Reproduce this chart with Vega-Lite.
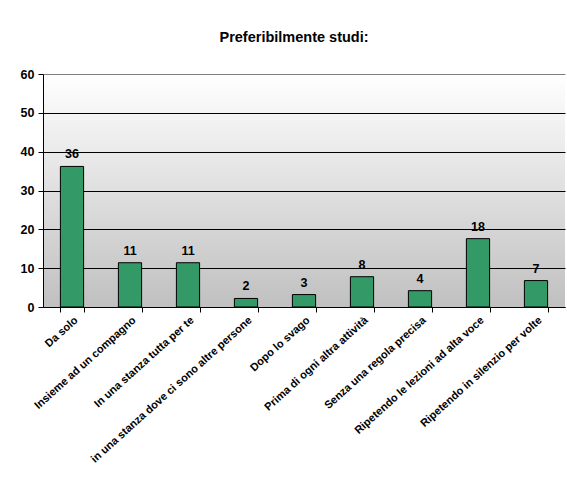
{
  "$schema": "https://vega.github.io/schema/vega-lite/v6.json",
  "width": 522,
  "height": 233,
  "autosize": "none",
  "padding": {"left": 43, "top": 74, "right": 2, "bottom": 173},
  "background": "#ffffff",
  "title": {
    "text": "Preferibilmente studi:",
    "font": "Liberation Sans",
    "fontSize": 14.5,
    "fontWeight": "bold",
    "color": "#000000",
    "anchor": "middle",
    "offset": 23,
    "dx": -10
  },
  "data": {
    "values": [
      {"voce": "Da solo", "n": 36.2},
      {"voce": "Insieme ad un compagno", "n": 11.4},
      {"voce": "In una stanza tutta per te", "n": 11.4},
      {"voce": "in una stanza dove ci sono altre persone", "n": 2.2},
      {"voce": "Dopo lo svago", "n": 3.2},
      {"voce": "Prima di ogni altra attività", "n": 7.8},
      {"voce": "Senza una regola precisa", "n": 4.2},
      {"voce": "Ripetendo le lezioni ad alta voce", "n": 17.6},
      {"voce": "Ripetendo in silenzio per volte", "n": 6.8}
    ]
  },
  "encoding": {
    "x": {
      "field": "voce",
      "type": "nominal",
      "sort": null,
      "title": null,
      "scale": {"paddingInner": 0.6, "paddingOuter": 0.3},
      "axis": {
        "tickBand": "extent",
        "labelAngle": -42,
        "labelAlign": "right",
        "labelBaseline": "top",
        "labelFont": "Liberation Sans",
        "labelFontSize": 11,
        "labelFontWeight": "bold",
        "labelColor": "#000000",
        "labelPadding": 2,
        "labelLimit": 300,
        "domainColor": "#000000",
        "tickColor": "#000000",
        "tickSize": 5
      }
    },
    "y": {
      "field": "n",
      "type": "quantitative",
      "title": null,
      "scale": {"domain": [0, 60], "nice": false},
      "axis": {
        "values": [0, 10, 20, 30, 40, 50, 60],
        "labelFont": "Liberation Sans",
        "labelFontSize": 12.5,
        "labelFontWeight": "bold",
        "labelColor": "#000000",
        "labelPadding": 4,
        "domainColor": "#000000",
        "tickColor": "#000000",
        "tickSize": 5,
        "grid": true,
        "gridColor": {
          "condition": {"test": "datum.value == 60", "value": "#808080"},
          "value": "#000000"
        },
        "gridOpacity": 1
      }
    }
  },
  "layer": [
    {
      "mark": {"type": "bar", "color": "#339966", "stroke": "#000000", "strokeWidth": 1}
    },
    {
      "mark": {
        "type": "text",
        "baseline": "bottom",
        "dy": -5,
        "font": "Liberation Sans",
        "fontSize": 12.5,
        "fontWeight": "bold",
        "color": "#000000"
      },
      "encoding": {"text": {"field": "n", "type": "quantitative", "format": ".0f"}}
    }
  ],
  "config": {
    "view": {
      "stroke": null,
      "fill": {
        "gradient": "linear",
        "x1": 0,
        "y1": 0,
        "x2": 0,
        "y2": 1,
        "stops": [
          {"offset": 0, "color": "#ffffff"},
          {"offset": 1, "color": "#c0c0c0"}
        ]
      }
    }
  }
}
